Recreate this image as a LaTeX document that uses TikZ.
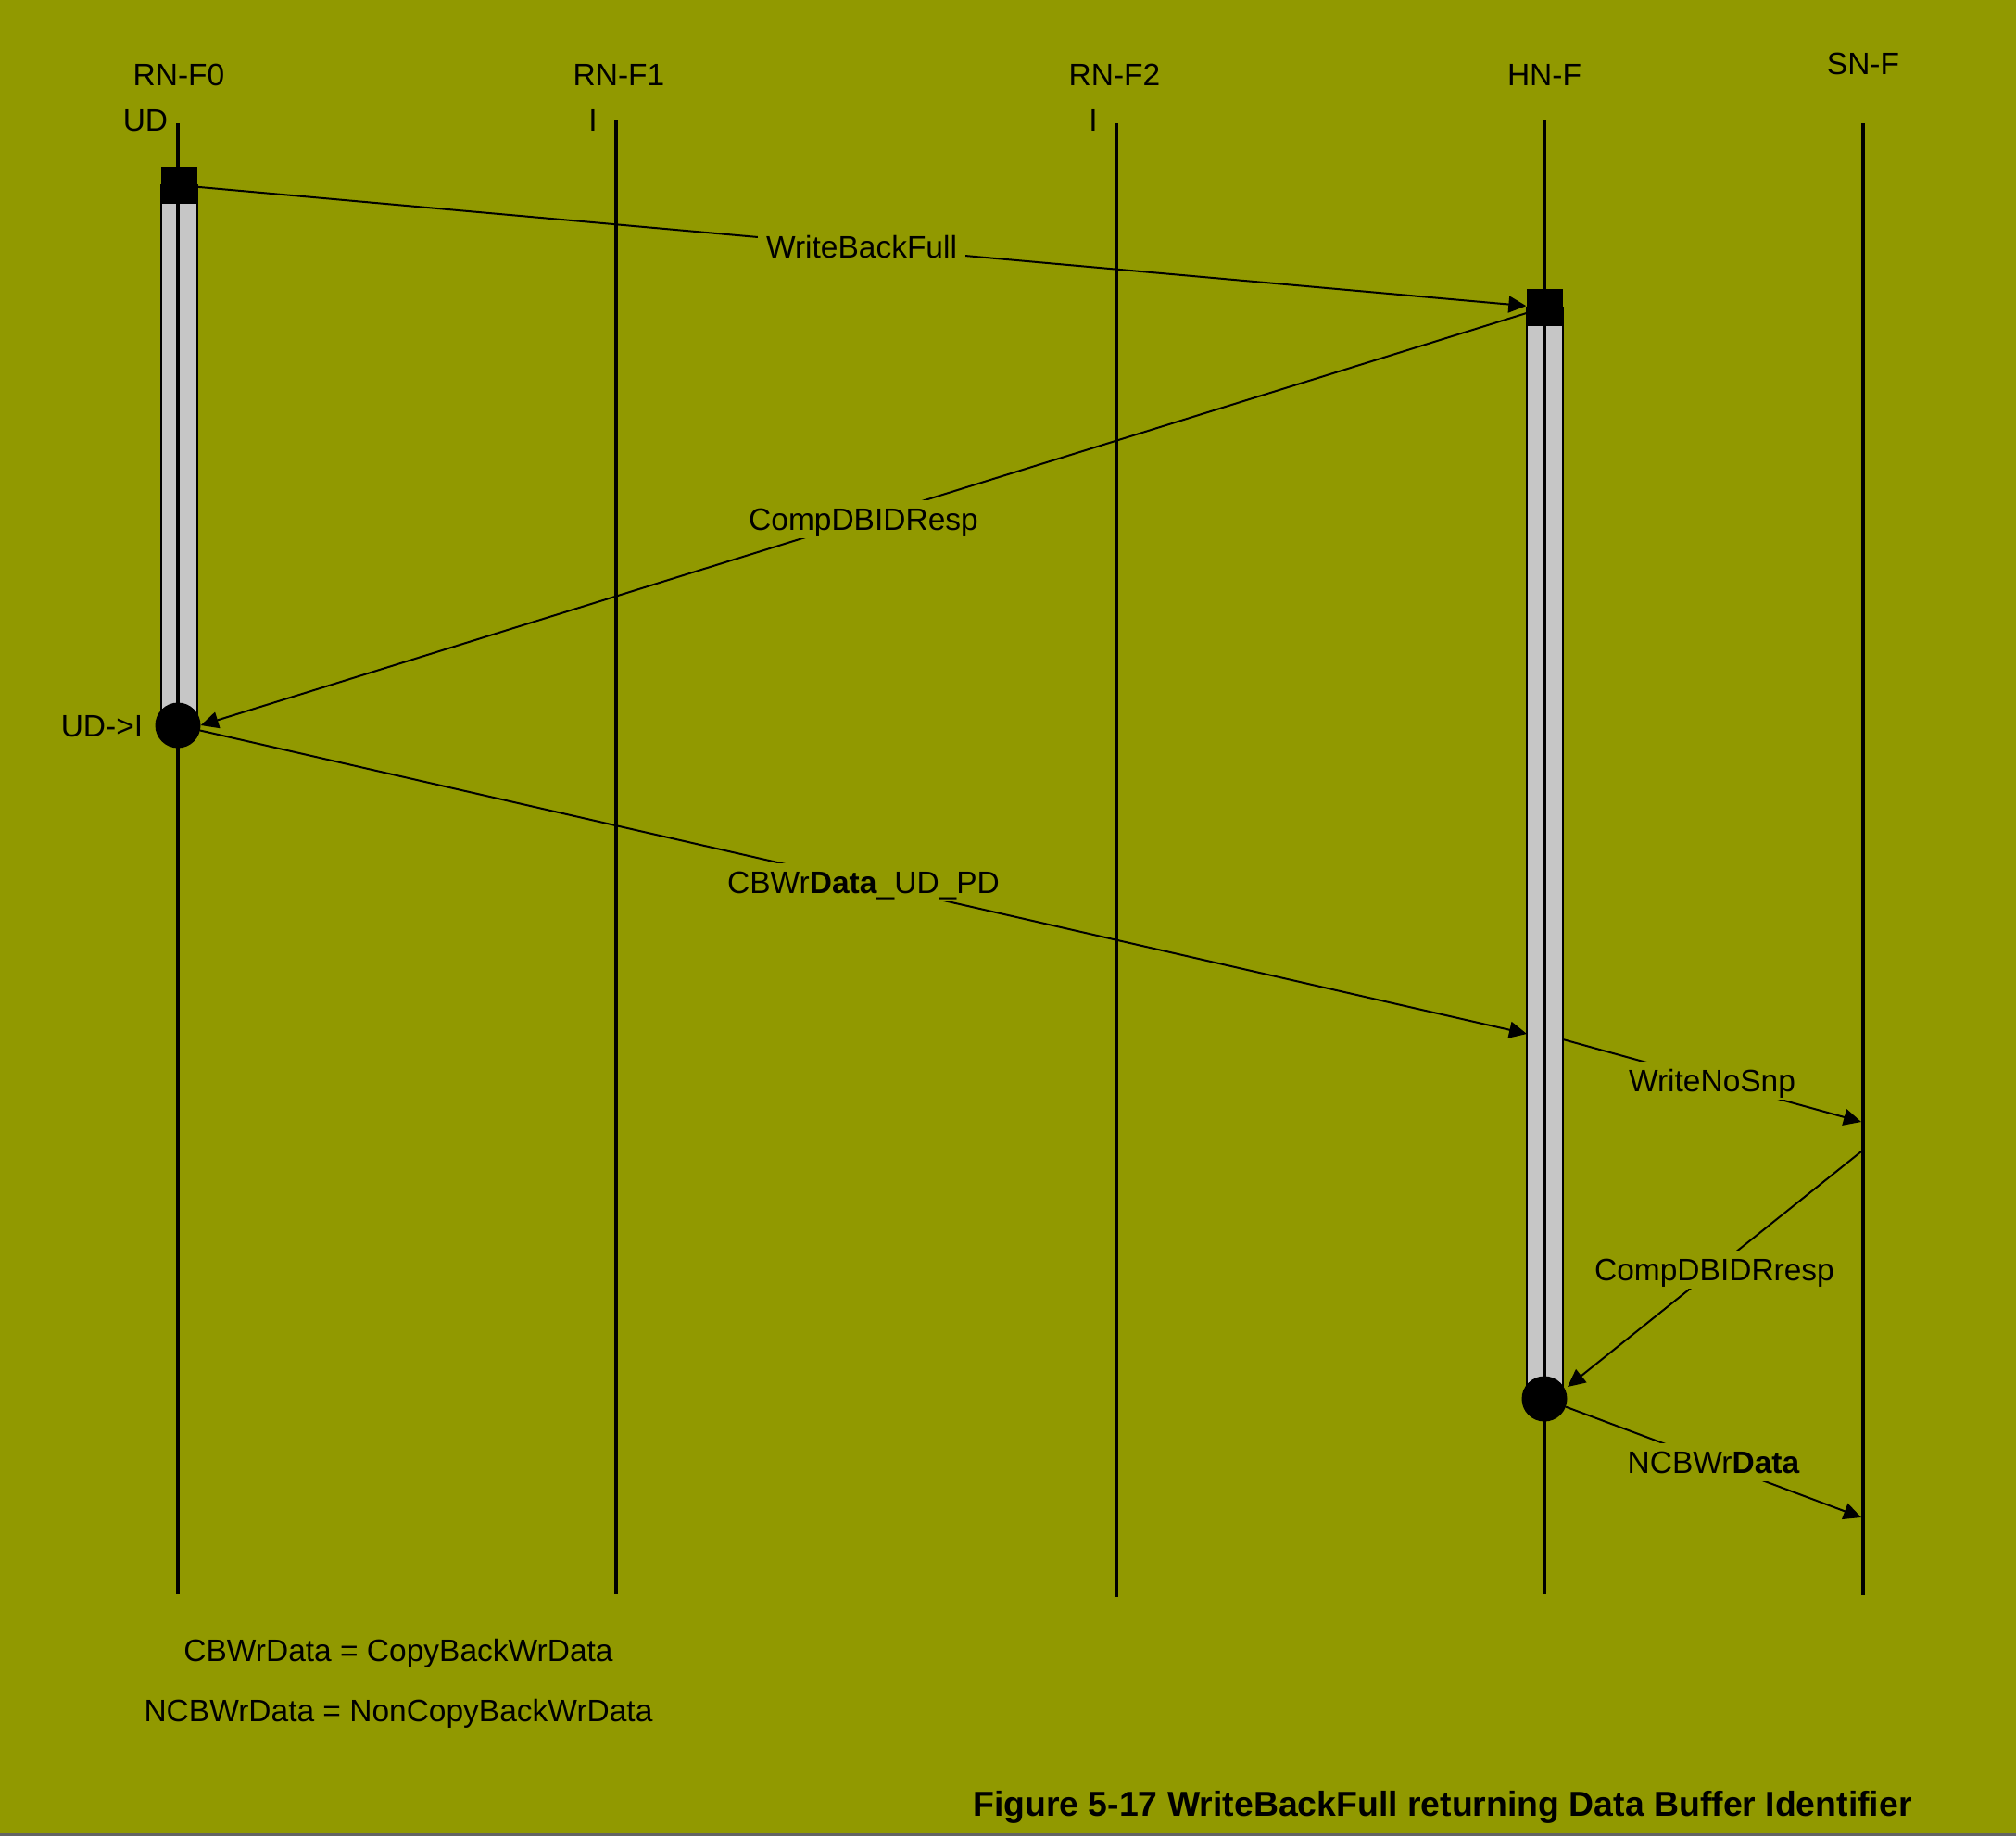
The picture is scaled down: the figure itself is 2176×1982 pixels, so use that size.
\documentclass[tikz,border=0pt]{standalone}
\usepackage{fontspec}
\setmainfont{Liberation Sans}
\usetikzlibrary{arrows.meta}
\definecolor{bg}{RGB}{145,153,0}
\definecolor{barg}{RGB}{198,198,198}
\definecolor{edgeg}{RGB}{100,100,100}
\begin{document}
\begin{tikzpicture}[x=1pt,y=-1pt,
  lbl/.style={font=\fontsize{33.5}{40}\selectfont, inner sep=0pt, text height=28pt, text depth=4pt},
  msg/.style={font=\fontsize{33.5}{40}\selectfont, fill=bg, inner xsep=9pt, inner ysep=4.5pt, text height=28pt, text depth=4pt},
  life/.style={line width=4pt},
  arr/.style={line width=2pt, -{Triangle[length=19pt,width=18pt]}},
  actbar/.style={draw=black, line width=1.2pt, fill=barg},
  blk/.style={fill=black, draw=none, minimum width=39pt, minimum height=40pt, inner sep=0pt},
  dot/.style={circle, fill=black, minimum size=49pt, inner sep=0pt}]
\useasboundingbox (0,0) rectangle (2176,1982);
\fill[bg] (0,0) rectangle (2176,1982);
\fill[edgeg] (0,1979) rectangle (2176,1982);

% headers
\node[lbl] (h0) at (193,80) {RN-F0};
\node[lbl] (s0) at (157,129) {UD};
\node[lbl] (h1) at (668,80) {RN-F1};
\node[lbl] (s1) at (640,129) {I};
\node[lbl] (h2) at (1203,80) {RN-F2};
\node[lbl] (s2) at (1180,129) {I};
\node[lbl] (h3) at (1667,80) {HN-F};
\node[lbl] (h4) at (2011,68) {SN-F};

% lifeline ends
\coordinate (t0) at (192,133);  \coordinate (b0) at (192,1721);
\coordinate (t1) at (665,130);  \coordinate (b1) at (665,1721);
\coordinate (t2) at (1205,133); \coordinate (b2) at (1205,1724);
\coordinate (t3) at (1667,130); \coordinate (b3) at (1667,1721);
\coordinate (t4) at (2011,133); \coordinate (b4) at (2011,1722);

% activation bars
\draw[actbar] (174,200) rectangle (213,783);
\draw[actbar] (1648,332) rectangle (1687,1510);

% lifelines
\draw[life] (t0) -- (b0);
\draw[life] (t1) -- (b1);
\draw[life] (t2) -- (b2);
\draw[life] (t3) -- (b3);
\draw[life] (t4) -- (b4);

% markers
\node[blk] (sq0) at (193,200) {};
\node[blk] (sq1) at (1667,332) {};
\node[dot] (c0) at (192,783) {};
\node[dot] (c1) at (1667,1510) {};
\node[lbl] (st0) at (110,783) {UD->I};

% arrow end points
\coordinate (hA) at (1648,1116);
\coordinate (hB) at (1687,1122);
\coordinate (sA) at (2009,1211);
\coordinate (sB) at (2009,1243);
\coordinate (hC) at (1692,1497);
\coordinate (sC) at (2009,1638);

% messages
\draw[arr] (sq0) -- node[msg] (m1) {WriteBackFull} (sq1);
\draw[arr] (sq1) -- node[msg] (m2) {CompDBIDResp} (c0.east);
\draw[arr] (c0) -- node[msg] (m3) {CBWr\textbf{Data}\_UD\_PD} (hA);
\draw[arr] (hB) -- node[msg] (m4) {WriteNoSnp} (sA);
\draw[arr] (sB) -- node[msg] (m5) {CompDBIDRresp} (hC);
\draw[arr] (c1) -- node[msg] (m6) {NCBWr\textbf{Data}} (sC);

% notes
\node[lbl] (n1) at (430,1781) {CBWrData = CopyBackWrData};
\node[lbl] (n2) at (430,1846) {NCBWrData = NonCopyBackWrData};
\node[font=\bfseries\fontsize{37.4}{44}\selectfont, inner sep=0pt, text height=31pt, text depth=5pt] (cap) at (1557,1947) {Figure 5-17 WriteBackFull returning Data Buffer Identifier};
\end{tikzpicture}
\end{document}
